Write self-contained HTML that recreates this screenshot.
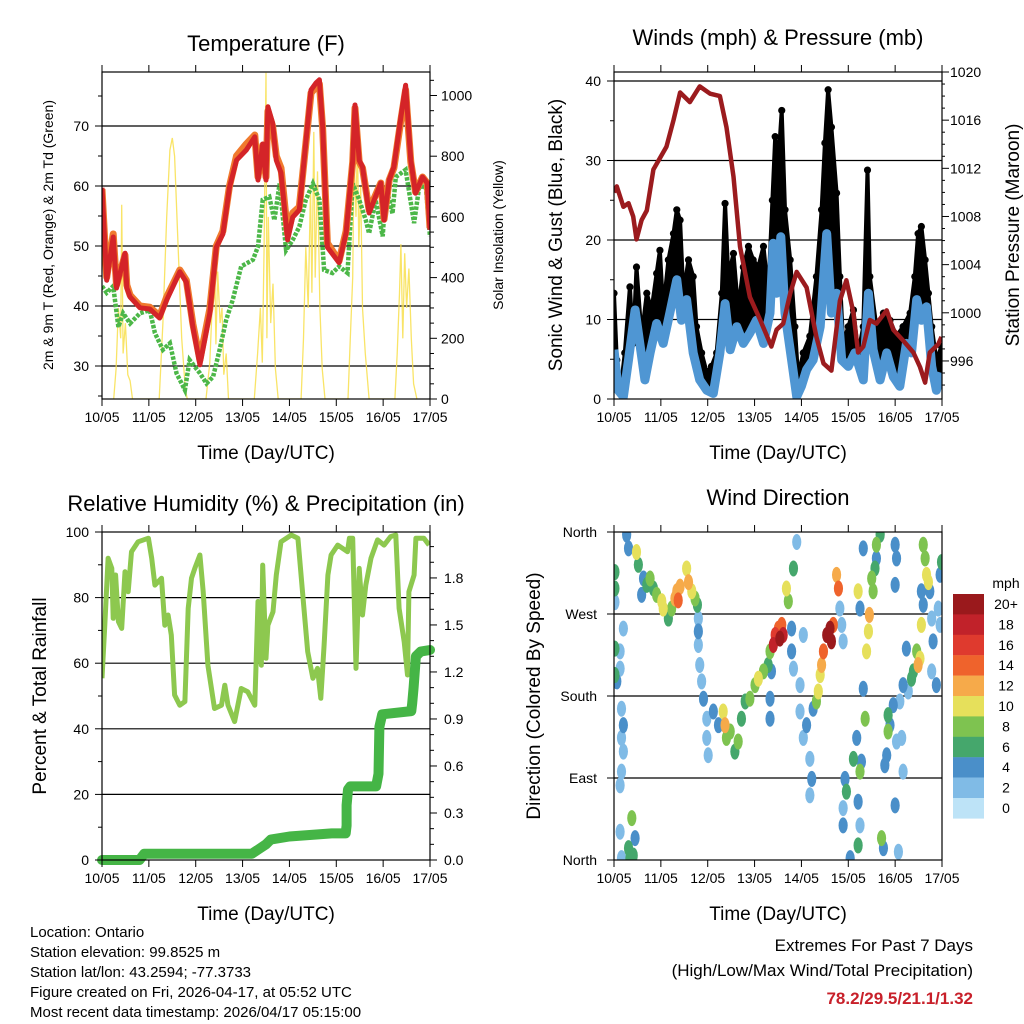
<!DOCTYPE html>
<html><head><meta charset="utf-8"><style>
html,body{margin:0;padding:0;background:#fff;}
svg{display:block;font-family:"Liberation Sans",Arial,sans-serif;}
</style></head><body>
<svg id="c" width="1024" height="1024" viewBox="0 0 1024 1024" xmlns="http://www.w3.org/2000/svg"></svg>
<script>
// ---------- DATA ----------
const dayLabels = ["10/05","11/05","12/05","13/05","14/05","15/05","16/05","17/05"];
// Temperature
const tRedDay = [0,0.10,0.24,0.31,0.49,0.53,0.60,0.81,1.02,1.23,1.38,1.66,1.80,1.94,2.09,2.30,2.44,2.58,2.72,2.87,3.08,3.26,3.33,3.43,3.50,3.54,3.64,3.72,3.82,3.96,4.07,4.21,4.35,4.46,4.57,4.64,4.71,4.81,5.06,5.21,5.35,5.40,5.49,5.56,5.70,5.95,6.02,6.13,6.23,6.38,6.48,6.59,6.69,6.84,6.94,7.0];
const tRed = [59.7,44.3,51.5,43,48.8,43,41.5,39.7,39.5,38,41,45.7,44,36.5,30.2,38.8,49.8,52,59.8,64.3,66,68.2,61,67,61,73.2,70.5,64.3,62.2,51,54.8,56,67.2,76,77.2,77.7,69.8,49.8,47.2,52.2,64.3,73.5,64.3,63.2,55.5,60.5,54.3,61,63.2,71.5,76.8,64.3,58.8,61.5,60.5,52.7];
const tOrange = [59.5,44.8,52,43.5,48.5,43.5,41.8,40,39.8,38.3,41.5,46,44.3,37,31,39.5,50,52.5,60,65,67,68.5,61.5,66.8,61.5,72.5,70,65,63,52,55.5,56.5,67,75.5,76.5,77,69.5,50.5,47.5,52.5,64,73,64,63,56,60.5,54.5,61,63,71,76,64,59,61.5,60.5,53];
const tDewDay = [0,0.10,0.24,0.35,0.45,0.60,0.81,1.02,1.13,1.30,1.45,1.59,1.77,1.87,2.09,2.23,2.37,2.51,2.65,2.79,2.97,3.22,3.33,3.43,3.57,3.68,3.79,3.93,4.07,4.21,4.35,4.50,4.64,4.74,4.92,5.06,5.24,5.35,5.49,5.63,5.70,5.84,5.99,6.06,6.20,6.27,6.48,6.66,6.77,6.91,7.0];
const tDew = [43.3,42.2,43.3,36.5,38.8,37.1,38.8,39.3,35.5,32.7,33.8,28.8,26,31,28.8,27.1,28.2,32.7,37.7,41,46.6,47.7,49.9,57.7,58.2,54.3,60.4,49.3,51,53.2,57.7,60.4,57.7,46,45.5,46.6,45.5,60.4,57.7,54.3,52.1,57.7,51.6,59.9,55.4,61.5,62.7,53.8,59.9,59.9,51.6];
const solDay = [0.25,0.30,0.35,0.40,0.42,0.45,0.50,0.55,0.60,0.65, 1.22,1.30,1.38,1.45,1.50,1.55,1.62,1.70,1.78,1.82, 2.22,2.30,2.35,2.40,2.43,2.47,2.52,2.56,2.60,2.65,2.70, 3.25,3.32,3.38,3.42,3.46,3.50,3.52,3.55,3.60,3.65,3.70,3.76, 4.25,4.30,4.35,4.40,4.45,4.48,4.52,4.55,4.60,4.65,4.70,4.76, 5.25,5.30,5.35,5.38,5.42,5.45,5.48,5.52,5.56,5.62,5.70, 6.25,6.30,6.35,6.38,6.42,6.46,6.50,6.55,6.60,6.65,6.72];
const solVal = [0,100,300,200,640,150,250,80,60,0, 0,250,600,820,860,800,520,200,30,0, 0,120,300,500,180,420,250,300,80,150,0, 0,150,300,120,500,1075,200,600,250,380,100,0, 0,200,500,300,700,350,880,400,750,300,100,0, 0,200,400,800,600,880,500,700,300,150,0, 0,150,350,510,200,480,300,430,200,50,0];
// Winds & pressure
const gustDay = [0,0.06,0.13,0.23,0.34,0.41,0.48,0.59,0.70,0.80,0.91,0.98,1.05,1.16,1.27,1.34,1.41,1.48,1.59,1.69,1.76,1.87,1.98,2.08,2.19,2.30,2.37,2.44,2.55,2.65,2.76,2.87,2.97,3.08,3.19,3.29,3.38,3.44,3.51,3.58,3.65,3.76,3.86,3.93,4.04,4.18,4.32,4.43,4.50,4.57,4.64,4.75,4.82,4.89,5.00,5.11,5.21,5.32,5.41,5.46,5.60,5.75,5.89,6.03,6.17,6.32,6.42,6.49,6.56,6.64,6.71,6.78,6.88,6.99];
const gustVal = [13.3,4.9,0.7,5.8,14.1,7.0,16.6,7.9,13.3,11.2,15.8,18.7,11.2,17.5,20.8,23.8,22.5,13.3,17.5,15.4,9.1,5.8,3.3,4.1,5.8,13.3,24.6,15.4,18.3,11.2,16.6,19.2,17.5,16.6,19.2,13.3,25.0,33.0,30.1,36.3,23.8,17.5,9.1,2.8,5.8,7.9,15.4,23.8,32.2,38.9,34.2,25.9,15.4,7.0,9.1,11.2,5.8,9.1,28.8,15.4,9.1,10.8,9.9,7.9,9.1,10.8,15.4,20.8,21.7,17.5,13.3,9.1,4.9,6.6];
const windDay = [0,0.09,0.20,0.31,0.45,0.55,0.66,0.77,0.91,1.05,1.19,1.34,1.44,1.55,1.69,1.83,1.98,2.12,2.26,2.37,2.48,2.62,2.76,2.90,3.04,3.19,3.33,3.40,3.47,3.56,3.65,3.79,3.90,4.00,4.11,4.25,4.40,4.54,4.64,4.75,4.86,5.00,5.14,5.32,5.43,5.53,5.68,5.82,5.96,6.10,6.24,6.35,6.46,6.56,6.67,6.78,6.88,6.99];
const windVal = [6.2,1.1,0.3,4.9,11.2,7.0,2.4,5.8,9.5,7.0,10.8,15.0,9.9,12.5,5.8,2.4,1.1,0.7,5.8,12.0,6.2,9.1,7.0,8.3,9.9,7.0,10.8,19.6,13.3,20.4,10.8,4.9,0.3,1.6,3.7,4.9,9.1,20.8,10.8,13.3,4.9,4.1,5.8,2.4,13.3,6.2,2.4,5.8,2.8,1.6,7.0,5.8,12.5,9.9,11.6,4.1,1.1,3.3];
const presDay = [0,0.06,0.20,0.31,0.41,0.48,0.59,0.70,0.84,1.12,1.27,1.41,1.62,1.83,2.05,2.26,2.40,2.55,2.69,2.90,3.12,3.36,3.47,3.61,3.76,3.90,4.11,4.32,4.47,4.64,4.82,4.96,5.11,5.21,5.32,5.46,5.60,5.82,5.96,6.17,6.39,6.53,6.64,6.74,6.92,6.99];
const presVal = [1010.0,1010.5,1008.8,1009.1,1008,1006.1,1007.7,1008.5,1011.9,1013.8,1016,1018.3,1017.5,1018.8,1018.2,1018.0,1015.4,1011.3,1005.5,1001.3,999.4,997.2,998.6,999.1,1001.6,1003.4,1002.1,998,995.8,995.2,1001,1002.7,1000.0,996.7,997.2,999.4,999.1,1000.2,998.6,997.7,996.7,995.5,994.2,996.7,997.4,998.0];
// RH & precip
const rhDay = [0,0.06,0.13,0.21,0.24,0.29,0.35,0.42,0.49,0.56,0.63,0.77,0.99,1.06,1.13,1.27,1.34,1.41,1.48,1.55,1.66,1.77,1.84,1.91,1.98,2.09,2.16,2.26,2.40,2.55,2.62,2.69,2.83,2.97,3.11,3.26,3.33,3.40,3.43,3.50,3.54,3.65,3.72,3.82,4.04,4.18,4.28,4.39,4.50,4.60,4.67,4.74,4.82,4.89,5.03,5.24,5.28,5.35,5.42,5.49,5.56,5.63,5.74,5.88,6.02,6.16,6.27,6.34,6.45,6.52,6.55,6.66,6.70,6.87,6.98];
const rhVal = [55.4,71.6,92.0,88.9,73.7,86.9,72.7,70.6,87.9,81.8,94.0,97.0,98.1,92.0,83.8,85.9,71.6,74.7,68.6,50.3,47.2,48.3,76.7,85.9,88.9,93.0,81.8,59.4,46.2,47.2,53.3,47.2,42.2,52.3,51.3,47.2,78.8,59.4,89.9,61.5,71.6,75.7,86.9,97.0,99.1,98.1,81.8,63.5,55.4,58.4,49.3,65.5,86.9,93.0,96.0,94.0,98.1,98.1,58.4,88.9,74.7,83.8,92.0,97.6,96.0,98.6,99.1,76.7,66.5,56.4,81.8,86.9,98.1,98.1,96.0];
const prDay = [0,0.8,0.9,3.2,3.35,3.5,3.6,4.0,4.9,5.2,5.22,5.22,5.25,5.3,5.85,5.9,5.92,5.98,6.6,6.62,6.65,6.7,6.8,7.0];
const prVal = [0,0,0.04,0.04,0.07,0.10,0.13,0.15,0.17,0.17,0.22,0.35,0.45,0.47,0.47,0.55,0.85,0.93,0.95,1.0,1.1,1.3,1.33,1.34];
// Wind direction
const wdDay = [0.02,0.02,0.02,0.02,0.02,0.06,0.13,0.20,0.13,0.16,0.20,0.16,0.20,0.16,0.13,0.13,0.16,
 0.27,0.31,0.48,0.52,0.63,0.59,0.70,0.77,0.84,0.91,1.02,1.05,1.16,1.23,1.30,1.34,1.37,1.41,1.55,1.59,1.66,1.73,1.78,1.80,1.80,1.80,1.83,1.87,1.91,1.98,1.98,2.01,2.12,2.23,2.33,2.37,2.40,2.48,2.58,2.65,2.72,2.80,2.90,3.01,3.08,3.19,3.29,3.33,3.36,3.33,3.33,3.40,3.44,3.51,3.54,3.58,3.61,3.68,3.72,3.83,3.79,3.79,3.83,3.90,4.04,3.97,3.97,4.04,4.11,4.18,4.22,4.18,4.25,4.32,4.36,4.40,4.43,4.47,4.54,4.61,4.64,4.68,4.75,4.79,4.82,4.86,4.89,4.93,4.96,4.89,4.89,5.04,5.11,5.18,5.25,5.28,5.21,5.25,5.21,5.21,5.25,5.32,5.32,5.36,5.39,5.43,5.45,5.50,5.53,5.57,5.60,5.60,5.68,5.71,5.75,5.78,5.82,5.85,5.85,5.89,5.96,6.00,6.00,6.03,6.03,6.00,6.07,6.10,6.17,6.14,6.17,6.24,6.28,6.35,6.39,6.46,6.49,6.53,6.56,6.60,6.60,6.64,6.67,6.71,6.74,6.78,6.81,6.78,6.88,6.92,6.96,6.99,6.96,6.56,0.34,0.38,0.45,0.31,0.41];
const wdDir = [316,298,283,232,203,196,229,254,210,166,148,134,119,97,82,31,2,
 357,342,338,324,309,291,302,309,298,291,284,276,265,276,287,295,285,300,320,305,295,287,280,265,251,236,214,196,177,155,134,115,163,148,163,148,134,141,119,130,155,174,177,192,199,207,214,229,207,177,155,236,247,254,243,258,247,298,284,320,254,229,210,349,247,192,163,134,148,111,89,71,166,174,185,203,214,229,247,254,240,258,313,298,276,258,240,89,75,57,38,2,111,134,97,108,64,38,16,295,276,342,188,155,229,251,269,309,295,320,346,331,357,24,13,104,115,141,159,148,170,302,346,331,130,60,9,174,97,134,192,232,185,199,207,229,214,221,258,280,346,331,313,305,295,265,240,207,192,276,258,327,313,295,2,46,24,13,5,38];
const wdSpd = [6,6,2,6,6,4,2,1,2,1,3,2,1,2,1,1,1,
 4,4,10,6,4,4,6,8,6,8,10,10,6,8,12,12,14,12,10,12,10,8,6,2,3,2,2,2,3,2,2,1,4,4,10,12,8,8,6,8,6,6,8,8,10,8,6,8,4,4,4,18,16,14,20,14,18,10,8,6,4,4,2,1,1,2,2,2,3,2,4,2,4,8,10,10,12,14,20,20,20,14,12,14,2,2,2,4,6,2,4,4,6,4,8,4,4,2,6,10,4,4,4,8,10,10,12,8,8,6,8,4,6,8,4,4,4,8,6,4,4,4,4,4,1,4,2,1,1,2,4,4,2,6,6,8,12,10,10,4,8,8,10,10,4,2,4,2,4,2,2,6,4,4,6,8,4,6,6];
const cbLabels = ["20+","18","16","14","12","10","8","6","4","2","0"];
const cbColors = ["#9a191c","#c1222a","#df3a2e","#ef632c","#f6aa4a","#e6e05b","#7ec350","#45a76c","#4a8fc9","#80bbe6","#bde3f7"];

// ---------- HELPERS ----------
const NS="http://www.w3.org/2000/svg";
const svg=document.getElementById('c');
function mk(tag,attrs,parent){const e=document.createElementNS(NS,tag);for(const k in attrs)e.setAttribute(k,attrs[k]);(parent||svg).appendChild(e);return e;}
function txt(s,x,y,size,anchor,parent,extra){const e=mk('text',Object.assign({x:x,y:y,'font-size':size,'text-anchor':anchor||'middle',fill:'#000'},extra||{}),parent);e.textContent=s;return e;}
function pts(xs,ys,fx,fy){const n=Math.min(xs.length,ys.length);let a=[];for(let i=0;i<n;i++)a.push(fx(xs[i]).toFixed(1)+','+fy(ys[i]).toFixed(1));return a.join(' ');}
function spdColor(s){let i=Math.min(10,Math.max(0,Math.round(s/2)));return cbColors[10-i];}

const P={tl:{x0:102,x1:430,y0:72,y1:399},tr:{x0:614,x1:942,y0:72,y1:399},bl:{x0:102,x1:430,y0:532,y1:860},br:{x0:614,x1:942,y0:532,y1:860}};
function xs(p){return d=>p.x0+d*(p.x1-p.x0)/7;}

function frame(p,g){
  const fx=xs(p);
  for(let i=0;i<=7;i++){
    const x=fx(i);
    mk('line',{x1:x,y1:p.y1,x2:x,y2:p.y1+7,stroke:'#000','stroke-width':1},g);
    mk('line',{x1:x,y1:p.y0,x2:x,y2:p.y0-7,stroke:'#000','stroke-width':1},g);
    const t=txt(dayLabels[i],x,p.y1+23,14,'middle',g);
    
    
  }
  const r=mk('rect',{x:p.x0,y:p.y0,width:p.x1-p.x0,height:p.y1-p.y0,fill:'none',stroke:'#000','stroke-width':1.2},g);
  
  
}
function clip(id,p){const cp=mk('clipPath',{id:id});mk('rect',{x:p.x0,y:p.y0,width:p.x1-p.x0,height:p.y1-p.y0},cp);}
function hgrid(p,ys,g){ys.forEach(y=>mk('line',{x1:p.x0,y1:y,x2:p.x1,y2:y,stroke:'#000','stroke-width':1.2},g));}

// ---------- PANEL 1: Temperature ----------
(function(){
  const p=P.tl; const g=mk('g',{});  
  clip('c1',p);
  const fx=xs(p), fy=F=>366-(F-30)*6, fs=s=>399-s*0.3035;
  const leftTicks=[30,40,50,60,70];
  hgrid(p,leftTicks.map(fy),g);
  const cg=mk('g',{'clip-path':'url(#c1)'},g);
  const sol=mk('polyline',{points:pts(solDay,solVal,fx,fs),fill:'none',stroke:'#f8df4c','stroke-width':1.3,'stroke-opacity':0.85},cg);
   
  const dew=mk('polyline',{points:pts(tDewDay,tDew,fx,fy),fill:'none',stroke:'#4cb748','stroke-width':4.5,'stroke-dasharray':'3.5,1.5'},cg);
   
  const or=mk('polyline',{points:pts(tRedDay,tOrange,fx,fy),fill:'none',stroke:'#f07a2e','stroke-width':7,'stroke-linejoin':'round'},cg);
   
  const rd=mk('polyline',{points:pts(tRedDay,tRed,fx,fy),fill:'none',stroke:'#d42428','stroke-width':5,'stroke-linejoin':'round'},cg);
   
  for(let v=25;v<=75;v+=5) mk('line',{x1:p.x0-(v%10?4:7),y1:fy(v),x2:p.x0,y2:fy(v),stroke:'#000'},g);
  leftTicks.forEach(v=>{const t=txt(String(v),p.x0-13,fy(v)+5,14,'end',g);});
  for(let s=0;s<=1050;s+=50) mk('line',{x1:p.x1,y1:fs(s),x2:p.x1+(s%200?4:7),y2:fs(s),stroke:'#000'},g);
  [0,200,400,600,800,1000].forEach(v=>{const t=txt(String(v),p.x1+11,fs(v)+5,14,'start',g);});
  frame(p,g);
  const ti=txt('Temperature (F)',266,51,22,'middle',g);  
  const xt=txt('Time (Day/UTC)',266,459,19,'middle',g);  
  const yl=txt('2m & 9m T (Red, Orange) & 2m Td (Green)',0,0,14,'middle',g,{transform:'translate(53,235) rotate(-90)'});  
  const yr=txt('Solar Insolation (Yellow)',0,0,14,'middle',g,{transform:'translate(503,235) rotate(-90)'});  
})();

// ---------- PANEL 2: Winds ----------
(function(){
  const p=P.tr; const g=mk('g',{});  
  clip('c2',p);
  const fx=xs(p), fy=v=>399-v*7.95, fp=q=>72+(1020-q)*12.04;
  const lt=[0,10,20,30,40];
  hgrid(p,[10,20,30,40].map(fy),g);
  const cg=mk('g',{'clip-path':'url(#c2)'},g);
  let poly=[];const ng=Math.min(gustDay.length,gustVal.length);
  for(let i=0;i<ng;i++)poly.push(fx(gustDay[i]).toFixed(1)+','+fy(gustVal[i]).toFixed(1));
  const nw=Math.min(windDay.length,windVal.length);
  for(let i=nw-1;i>=0;i--)poly.push(fx(windDay[i]).toFixed(1)+','+fy(windVal[i]).toFixed(1));
  const gp=mk('polygon',{points:poly.join(' '),fill:'#000',stroke:'#000','stroke-width':4,'stroke-linejoin':'round'},cg);
   
  for(let i=0;i<ng;i++){const c=mk('circle',{cx:fx(gustDay[i]),cy:fy(gustVal[i]),r:3.6,fill:'#000'},cg);
     }
  const bl=mk('polyline',{points:pts(windDay,windVal,fx,fy),fill:'none',stroke:'#4f96d3','stroke-width':9,'stroke-linejoin':'round'},cg);
   
  const pr=mk('polyline',{points:pts(presDay,presVal,fx,fp),fill:'none',stroke:'#9b1b1e','stroke-width':4.5,'stroke-linejoin':'round'},cg);
   
  for(let v=0;v<=40;v+=5) mk('line',{x1:p.x0-(v%10?4:7),y1:fy(v),x2:p.x0,y2:fy(v),stroke:'#000'},g);
  lt.forEach(v=>{const t=txt(String(v),p.x0-13,fy(v)+5,14,'end',g);});
  for(let q=994;q<=1020;q+=1) if(fp(q)<=399) mk('line',{x1:p.x1,y1:fp(q),x2:p.x1+(q%4?3:7),y2:fp(q),stroke:'#000'},g);
  [996,1000,1004,1008,1012,1016,1020].forEach(v=>{const t=txt(String(v),p.x1+8,fp(v)+5,14,'start',g);});
  frame(p,g);
  const ti=txt('Winds (mph) & Pressure (mb)',778,45,22,'middle',g);  
  const xt=txt('Time (Day/UTC)',778,459,19,'middle',g);  
  const yl=txt('Sonic Wind & Gust (Blue, Black)',0,0,19,'middle',g,{transform:'translate(562,235) rotate(-90)'});  
  const yr=txt('Station Pressure (Maroon)',0,0,19,'middle',g,{transform:'translate(1019,235) rotate(-90)'});  
})();

// ---------- PANEL 3: RH & Precip ----------
(function(){
  const p=P.bl; const g=mk('g',{});  
  clip('c3',p);
  const fx=xs(p), fy=r=>860-r*3.28, fr=i=>860-i*156.7;
  hgrid(p,[20,40,60,80].map(fy),g);
  const cg=mk('g',{'clip-path':'url(#c3)'},g);
  const rh=mk('polyline',{points:pts(rhDay,rhVal,fx,fy),fill:'none',stroke:'#8dc84f','stroke-width':5,'stroke-linejoin':'round'},cg);
   
  const pc=mk('polyline',{points:pts(prDay,prVal,fx,fr),fill:'none',stroke:'#45b546','stroke-width':10,'stroke-linejoin':'round','stroke-linecap':'round'},g);
   
  for(let v=0;v<=100;v+=10) mk('line',{x1:p.x0-(v%20?4:7),y1:fy(v),x2:p.x0,y2:fy(v),stroke:'#000'},g);
  [0,20,40,60,80,100].forEach(v=>{const t=txt(String(v),p.x0-13,fy(v)+5,14,'end',g);});
  for(let k=0;k<=20;k++){const v=k*0.1; if(fr(v)>=p.y0) mk('line',{x1:p.x1,y1:fr(v),x2:p.x1+(k%3?4:7),y2:fr(v),stroke:'#000'},g);}
  ['0.0','0.3','0.6','0.9','1.2','1.5','1.8'].forEach(s=>{const t=txt(s,p.x1+14,fr(parseFloat(s))+5,14,'start',g);});
  frame(p,g);
  const ti=txt('Relative Humidity (%) & Precipitation (in)',266,511,22,'middle',g);  
  const xt=txt('Time (Day/UTC)',266,920,19,'middle',g);  
  const yl=txt('Percent & Total Rainfall',0,0,19,'middle',g,{transform:'translate(46,696) rotate(-90)'});  
})();

// ---------- PANEL 4: Wind Direction ----------
(function(){
  const p=P.br; const g=mk('g',{});  
  clip('c4',p);
  const fx=xs(p), fy=d=>860-d*0.9111;
  hgrid(p,[90,180,270].map(fy),g);
  const cg=mk('g',{'clip-path':'url(#c4)'},g);
  const n=Math.min(wdDay.length,wdDir.length,wdSpd.length);
  const order=[...Array(n).keys()].sort((a,b)=>wdSpd[a]-wdSpd[b]);
  order.forEach(i=>{
    const c=mk('ellipse',{cx:fx(wdDay[i]),cy:fy(wdDir[i]),rx:4.6,ry:8,fill:spdColor(wdSpd[i])},cg);
    
    
  });
  const labs=['North','East','South','West','North'];
  [0,90,180,270,360].forEach((d,i)=>{
    mk('line',{x1:p.x0-7,y1:fy(d),x2:p.x0,y2:fy(d),stroke:'#000'},g);
    const t=txt(labs[i],p.x0-17,fy(d)+5,14,'end',g);
  });
  frame(p,g);
  const ti=txt('Wind Direction',778,505,22,'middle',g);  
  const xt=txt('Time (Day/UTC)',778,920,19,'middle',g);  
  const yl=txt('Direction (Colored By Speed)',0,0,19,'middle',g,{transform:'translate(540,696) rotate(-90)'});  
  const cb=mk('g',{});  
  const u=txt('mph',1006,588,14,'middle',cb);  
  cbColors.forEach((c,i)=>{
    const r=mk('rect',{x:953,y:594+i*20.4,width:31,height:20.6,fill:c},cb);
     
    const t=txt(cbLabels[i],1006,594+i*20.4+15,14,'middle',cb);  
  });
})();

// ---------- Footer text ----------
(function(){
  const g=mk('g',{});  
  const lines=['Location: Ontario','Station elevation: 99.8525 m','Station lat/lon: 43.2594; -77.3733','Figure created on Fri, 2026-04-17, at 05:52 UTC','Most recent data timestamp: 2026/04/17 05:15:00'];
  lines.forEach((s,i)=>{const t=txt(s,30,937+i*20,15,'start',g);});
  const h=mk('g',{});  
  const a=txt('Extremes For Past 7 Days',973,951,17,'end',h);  
  const b=txt('(High/Low/Max Wind/Total Precipitation)',973,976,17,'end',h);  
  const c=txt('78.2/29.5/21.1/1.32',973,1004,17,'end',h,{fill:'#c8202a','font-weight':'bold'});  
})();
</script>
</body></html>
